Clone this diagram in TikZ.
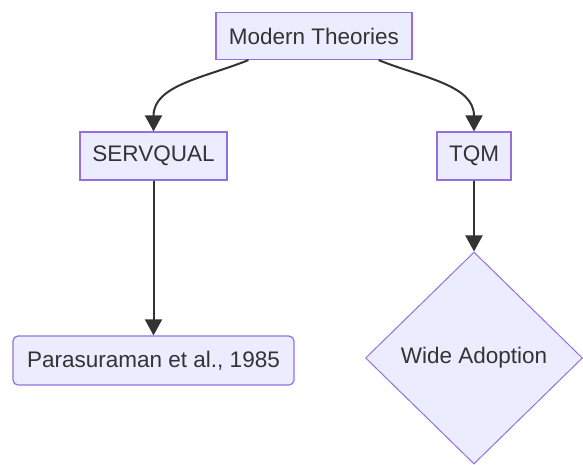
\documentclass[tikz,border=0pt]{standalone}
\usepackage{fontspec}
\setmainfont{Liberation Sans}
\usepackage{tikz}
\usetikzlibrary{shapes.geometric,arrows.meta}
\usetikzlibrary{positioning}
\definecolor{boxfill}{HTML}{ECECFF}
\definecolor{boxline}{HTML}{9370DB}
\definecolor{ink}{HTML}{333333}
\tikzstyle{theory} = [rectangle, draw=boxline, fill=boxfill, line width=1.2pt, text=ink, minimum height=48pt, inner sep=0pt]
\tikzstyle{link} = [draw=ink, line width=2pt, -{Triangle[length=16pt,width=17pt]}]

\begin{document}
\begin{tikzpicture}[x=1pt, y=1pt, font=\fontsize{22.5}{27}\selectfont]
	\useasboundingbox (0,0) rectangle (583,-465);

	\node[theory, minimum width=196pt, minimum height=47pt] at (314,-36)(Modern){Modern Theories};
	\node[theory, minimum width=147pt]at([xshift=-160.5pt, yshift=-120pt]Modern.center)(Servqual){SERVQUAL};
	\node[theory, minimum width=74pt]at([xshift=160pt, yshift=-120pt]Modern.center)(Tqm){TQM};

	\node[theory, minimum width=281pt, minimum height=49pt, rounded corners=5pt]at([yshift=-204.5pt]Servqual.center)(Paper){Parasuraman et al., 1985};
	\node[theory, diamond, line width=1pt, minimum width=217pt, minimum height=212pt]at([yshift=-202pt]Tqm.center)(Adoption){Wide Adoption};

	\coordinate (Modern-L) at ([xshift=33pt]Modern.south west);
	\coordinate (Modern-R) at ([xshift=-34pt]Modern.south east);

	\draw[link] (Modern-L) to[out=-158, in=90] (Servqual.north);
	\draw[link] (Modern-R) to[out=-22, in=90] (Tqm.north);
	\draw[link] (Servqual) -- (Paper);
	\draw[link] (Tqm) -- (Adoption);

\end{tikzpicture}
\end{document}
